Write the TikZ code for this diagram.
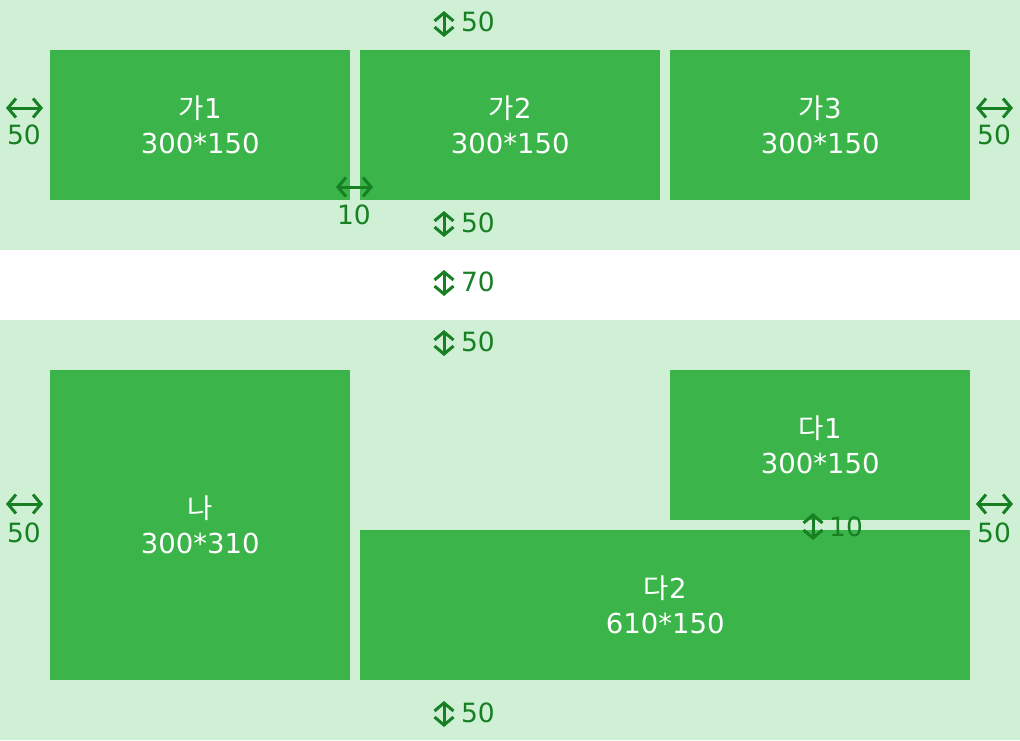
\documentclass[tikz,border=0pt]{standalone}
\usepackage{fontspec}
\setmainfont{DejaVu Sans}
\newfontfamily\kr{Noto Sans CJK KR}
\usetikzlibrary{arrows.meta}
\definecolor{bglight}{RGB}{207,240,213}
\definecolor{boxgreen}{RGB}{59,181,74}
\definecolor{dimgreen}{RGB}{22,128,34}
\begin{document}
\begin{tikzpicture}[x=1pt,y=-1pt,
  box/.style={fill=boxgreen,draw=none,anchor=north west,inner sep=0pt,text=white,
    font=\fontsize{27.5}{35}\selectfont,align=center},
  dim/.style={text=dimgreen,inner sep=0pt,font=\fontsize{26.5}{30}\selectfont},
  dimarr/.style={draw=dimgreen,line width=3pt,
    {Straight Barb[length=8pt,width=19pt]}-{Straight Barb[length=8pt,width=19pt]}}]
\useasboundingbox (0,0) rectangle (1020,740);
\fill[white] (0,0) rectangle (1020,740);
\fill[bglight] (0,0) rectangle (1020,250);
\fill[bglight] (0,320) rectangle (1020,740);
% boxes
\node[box,minimum width=300,minimum height=150] (g1) at (50,50) {{\kr 가}1\\300*150};
\node[box,minimum width=300,minimum height=150] (g2) at (360,50) {{\kr 가}2\\300*150};
\node[box,minimum width=300,minimum height=150] (g3) at (670,50) {{\kr 가}3\\300*150};
\node[box,minimum width=300,minimum height=310] (n) at (50,370) {{\kr 나}\\300*310};
\node[box,minimum width=300,minimum height=150] (d1) at (670,370) {{\kr 다}1\\300*150};
\node[box,minimum width=610,minimum height=150] (d2) at (360,530) {{\kr 다}2\\610*150};
% vertical dimension marks
\node[dim] (t50) at (478,22) {50};
\coordinate (t50a) at (444,11); \coordinate (t50b) at (444,37);
\draw[dimarr] (t50a) -- (t50b);
\node[dim] (b50) at (478,223) {50};
\coordinate (b50a) at (444,211); \coordinate (b50b) at (444,237);
\draw[dimarr] (b50a) -- (b50b);
\node[dim] (m70) at (478,282) {70};
\coordinate (m70a) at (444,270); \coordinate (m70b) at (444,296);
\draw[dimarr] (m70a) -- (m70b);
\node[dim] (u50) at (478,342) {50};
\coordinate (u50a) at (444,330); \coordinate (u50b) at (444,356);
\draw[dimarr] (u50a) -- (u50b);
\node[dim] (v10) at (846,527) {10};
\coordinate (v10a) at (813,513); \coordinate (v10b) at (813,540);
\draw[dimarr] (v10a) -- (v10b);
\node[dim] (e50) at (478,713) {50};
\coordinate (e50a) at (444,701); \coordinate (e50b) at (444,727);
\draw[dimarr] (e50a) -- (e50b);
% horizontal dimension marks
\node[dim] (l50) at (24,135) {50};
\coordinate (l50a) at (6,108); \coordinate (l50b) at (43,108);
\draw[dimarr] (l50a) -- (l50b);
\node[dim] (r50) at (994,135) {50};
\coordinate (r50a) at (976,108); \coordinate (r50b) at (1013,108);
\draw[dimarr] (r50a) -- (r50b);
\node[dim] (g10) at (354,215) {10};
\coordinate (g10a) at (336,187); \coordinate (g10b) at (373,187);
\draw[dimarr] (g10a) -- (g10b);
\node[dim] (ll50) at (24,533) {50};
\coordinate (ll50a) at (6,504); \coordinate (ll50b) at (43,504);
\draw[dimarr] (ll50a) -- (ll50b);
\node[dim] (rr50) at (994,533) {50};
\coordinate (rr50a) at (976,504); \coordinate (rr50b) at (1013,504);
\draw[dimarr] (rr50a) -- (rr50b);
\end{tikzpicture}
\end{document}
